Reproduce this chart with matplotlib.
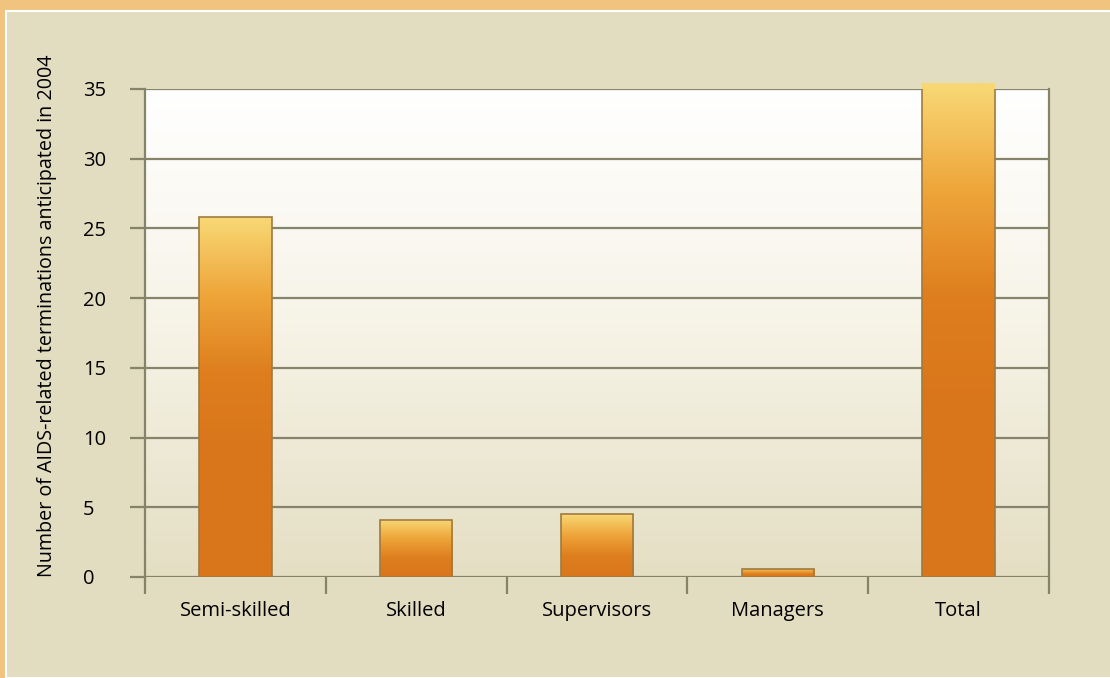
import matplotlib
matplotlib.use("Agg")
import matplotlib.pyplot as plt
import numpy as np
from matplotlib.colors import LinearSegmentedColormap
from matplotlib.patches import Rectangle

categories = ["Semi-skilled", "Skilled", "Supervisors", "Managers", "Total"]
values = [25.8, 4.1, 4.5, 0.6, 35.4]
yticks = [0, 5, 10, 15, 20, 25, 30, 35]

plt.rcParams['font.family'] = ['Open Sans', 'DejaVu Sans']

fig = plt.figure(figsize=(11.1, 6.78), dpi=100)
fig.patch.set_facecolor("#f0c47e")
# beige inner panel with thin white edge
fig.patches.append(Rectangle((6 / 1110, 0), 1.0, 1 - 11 / 678, transform=fig.transFigure,
                             facecolor="#e2dcc0", edgecolor="white", linewidth=1.5, zorder=-5))

ax = fig.add_axes([145 / 1110, 101 / 678, 904 / 1110, 488 / 678])
ax.set_zorder(2)
ax.patch.set_alpha(0)

# plot area gradient: white at top to beige at bottom
bg = LinearSegmentedColormap.from_list("bg", ["#e4dec3", "#f6f3e6", "#ffffff"])
grad = np.linspace(0, 1, 256).reshape(-1, 1)
ax.imshow(grad, extent=(-0.5, len(categories) - 0.5, 0, 35), origin="lower",
          cmap=bg, aspect="auto", zorder=0)

# gridlines
for y in yticks:
    ax.axhline(y, color="#85836a", linewidth=1.6, zorder=1)

# bars with vertical gradient
barcmap = LinearSegmentedColormap.from_list("bar", ["#d9761c", "#de7e1e", "#eea53a", "#f8d875"])
x = np.arange(len(categories))
bars = ax.bar(x, values, width=0.4, color="none", edgecolor="#a07a40", linewidth=1.2, zorder=3)
for b in bars:
    x0, w, h = b.get_x(), b.get_width(), b.get_height()
    g = np.concatenate([np.zeros(90), np.linspace(0, 1, 166)]).reshape(-1, 1) if h > 10 \
        else np.linspace(0, 1, 256).reshape(-1, 1)
    im = ax.imshow(g, extent=(x0, x0 + w, 0, h), origin="lower", cmap=barcmap,
                   aspect="auto", zorder=2)
    im.set_clip_path(b)

ax.set_xlim(-0.5, len(categories) - 0.5)
ax.set_ylim(0, 35)
ax.set_xticks(np.arange(-0.5, len(categories), 1.0))
ax.set_xticklabels([])
ax.set_xticks(x, minor=True)
ax.set_xticklabels(categories, minor=True, fontsize=14.5)
ax.tick_params(axis="x", which="major", length=12, width=1.6, color="#85836a", direction="out")
ax.tick_params(axis="x", which="minor", length=0, pad=17.5)
ax.set_yticks(yticks)
ax.tick_params(axis="y", length=11, width=1.6, color="#85836a", labelsize=14.5, pad=33.5)
for lab in ax.get_yticklabels():
    lab.set_horizontalalignment("left")

ax.spines["top"].set_visible(False)
ax.spines["bottom"].set_visible(False)
for s in ["left", "right"]:
    ax.spines[s].set_color("#85836a")
    ax.spines[s].set_linewidth(1.6)
    ax.spines[s].set_zorder(4)

fig.text(47 / 1110, 1 - 316 / 678, "Number of AIDS-related terminations anticipated in 2004",
         rotation=90, ha="center", va="center", fontsize=14.2)

fig.savefig("out.png", dpi=100, facecolor=fig.get_facecolor())
